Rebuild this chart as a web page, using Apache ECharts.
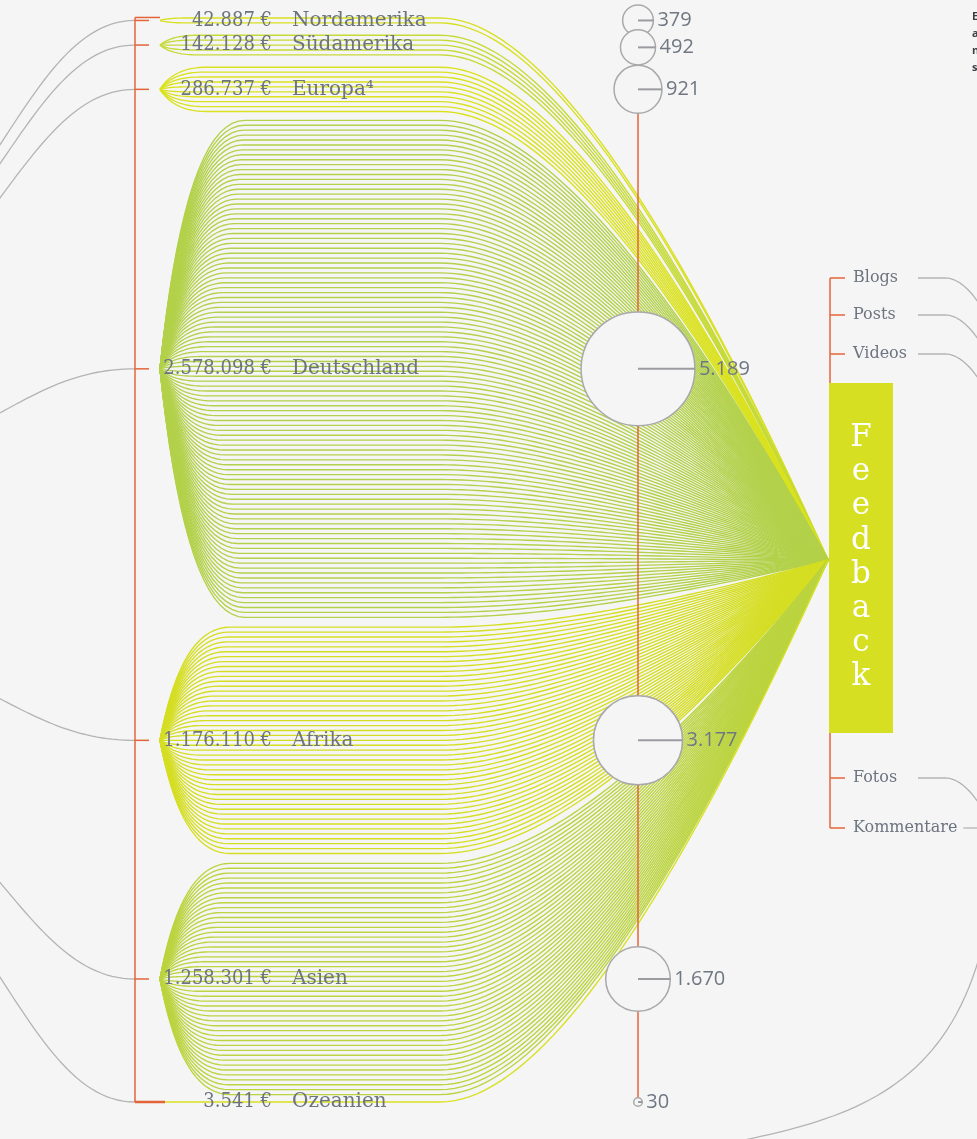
<!DOCTYPE html>
<html lang="de">
<head>
<meta charset="utf-8">
<title>Feedback</title>
<style>
html,body{margin:0;padding:0;background:#f5f5f5;overflow:hidden;}
#chart{width:977px;height:1139px;}
</style>
<script src="https://cdn.jsdelivr.net/npm/echarts@6/dist/echarts.min.js"></script>
</head>
<body>
<div id="chart"></div>
<script>
// ---------------- data ----------------
const regions = ['Nordamerika', 'Südamerika', 'Europa⁴', 'Deutschland', 'Afrika', 'Asien', 'Ozeanien'];
const amounts = [42887, 142128, 286737, 2578098, 1176110, 1258301, 3541];
const feedbackCounts = [379, 492, 921, 5189, 3177, 1670, 30];
const strandCounts = [2, 5, 10, 102, 47, 48, 1];   // strands per region
const feedbackTypes = ['Blogs', 'Posts', 'Videos', 'Fotos', 'Kommentare'];
const hubLabel = 'Feedback';

// ---------------- style / layout ----------------
const BG = '#f5f5f5', ORANGE = '#e4643a', GREY = '#b4b4b4', TEXT = '#6c7480';
const regionColors = ['#d8e021', '#c6da36', '#dae21f', '#b3d14a', '#d5de22', '#bbd43f', '#d8e021'];
const SERIF = '"DejaVu Serif", serif';
const SERIF_C = '"DejaVu Serif Condensed", "DejaVu Serif", serif';
const SANS = '"Open Sans", sans-serif';
const L = {
  bracketX: 135, tickX: 149, nodeX: 160, numX: 272, nameX: 292,
  fanMax: 85, fanRef: 250, flatEndX: 440, bendCtrlX: 584, hubX: 828,
  trunkX: 638, circleK: 0.79,
  fbOffsets: [-282, -245, -206, 218, 268], boxW: 64, boxTopOff: -177, boxH: 350
};
const GAPS = [0, 2.5, 2.5, 1.8, 2, 2, 1.5];   // spacing (in strand slots) before each bundle

const starts = [];
{ let s = 0; strandCounts.forEach((n, i) => { s += GAPS[i]; starts.push(s); s += n - 1; }); }
const lastSlot = starts[starts.length - 1] + strandCounts[strandCounts.length - 1] - 1;
const centers = starts.map((st, i) => st + (strandCounts[i] - 1) / 2);
const hubSlot = lastSlot / 2;

function fmt(n) { return String(n).replace(/\B(?=(\d{3})+(?!\d))/g, '.'); }

const strandData = [];
regions.forEach((r, i) => {
  for (let j = 0; j < strandCounts[i]; j++) {
    strandData.push([i, starts[i] + j, centers[i]]);
  }
});

function cubicPts(p0, p1, p2, p3, n) {
  const out = [];
  for (let k = 1; k <= n; k++) {
    const t = k / n, u = 1 - t;
    out.push([u*u*u*p0[0] + 3*u*u*t*p1[0] + 3*u*t*t*p2[0] + t*t*t*p3[0],
              u*u*u*p0[1] + 3*u*u*t*p1[1] + 3*u*t*t*p2[1] + t*t*t*p3[1]]);
  }
  return out;
}
function quadPts(p0, p1, p2, n) {
  const out = [];
  for (let k = 1; k <= n; k++) {
    const t = k / n, u = 1 - t;
    out.push([u*u*p0[0] + 2*u*t*p1[0] + t*t*p2[0], u*u*p0[1] + 2*u*t*p1[1] + t*t*p2[1]]);
  }
  return out;
}
function txt(text, x, y, size, family, fill, align, extra) {
  return {
    type: 'text', silent: true,
    style: Object.assign({
      text: text, x: x, y: y, fontSize: size, fontFamily: family, fill: fill,
      align: align, textAlign: align, verticalAlign: 'middle', textVerticalAlign: 'middle'
    }, extra || {})
  };
}
function line(x1, y1, x2, y2, stroke, w) {
  return { type: 'line', silent: true, shape: { x1, y1, x2, y2 }, style: { stroke: stroke, lineWidth: w } };
}
function circleR(i) { return L.circleK * Math.sqrt(feedbackCounts[i]); }
function circleY(api, i) {
  let y = 0, prevR = 0;
  for (let k = 0; k <= i; k++) {
    const yk = api.coord([L.trunkX, centers[k]])[1];
    const r = circleR(k);
    y = k === 0 ? yk : Math.max(yk, y + prevR + r - 6);
    prevR = r;
  }
  return y;
}
const measureCtx = document.createElement('canvas').getContext('2d');
function textWidth(t, size, family) { measureCtx.font = size + 'px ' + family; return measureCtx.measureText(t).width; }

// ---------------- series ----------------
const connectorsSeries = {
  type: 'custom', coordinateSystem: 'cartesian2d', silent: true,
  data: regions.map((r, i) => [i, centers[i]]),
  renderItem(params, api) {
    const p = api.coord([L.bracketX, api.value(1)]);
    const hub = api.coord([L.hubX, hubSlot]);
    const dy = 0.23 * (hub[1] - p[1]);
    const pts = [p].concat(cubicPts(p, [p[0] - 60, p[1]], [p[0] - 98, p[1] + 0.55 * dy], [p[0] - 147, p[1] + 1.15 * dy], 30));
    return { type: 'polyline', silent: true, shape: { points: pts }, style: { stroke: GREY, lineWidth: 1.3, fill: 'none' } };
  }
};

const strandSeries = {
  type: 'custom', coordinateSystem: 'cartesian2d', silent: true,
  data: strandData,
  renderItem(params, api) {
    const i = api.value(0);
    const node = api.coord([L.nodeX, api.value(2)]);
    const yi = api.coord([L.nodeX, api.value(1)])[1];
    const x0 = node[0], yc = node[1];
    const dy = Math.abs(yi - yc);
    const w = Math.max(12, L.fanMax * Math.pow(dy / L.fanRef, 0.25));
    const flatX = api.coord([L.flatEndX, 0])[0];
    const ctrlX = api.coord([L.bendCtrlX, 0])[0];
    const hub = api.coord([L.hubX, hubSlot]);
    let pts = [[x0, yc]];
    pts = pts.concat(quadPts([x0, yc], [x0 + w * 0.3, yi], [x0 + w, yi], 18));
    pts.push([flatX, yi]);
    pts = pts.concat(quadPts([flatX, yi], [ctrlX, yi], hub, 40));
    return { type: 'polyline', silent: true, shape: { points: pts }, style: { stroke: regionColors[i], lineWidth: 1.35, fill: 'none' } };
  }
};

const spineSeries = {
  type: 'custom', coordinateSystem: 'cartesian2d', silent: true,
  data: [[centers[0], centers[centers.length - 1]]],
  renderItem(params, api) {
    const top = api.coord([L.bracketX, api.value(0)]);
    const bot = api.coord([L.bracketX, api.value(1)]);
    const tx = api.coord([L.nodeX, 0])[0];
    return { type: 'group', children: [
      line(top[0], top[1] - 3, bot[0], bot[1], ORANGE, 1.5),
      line(top[0], top[1] - 3, tx, top[1] - 3, ORANGE, 1.5),
      line(bot[0], bot[1], tx + 5, bot[1], ORANGE, 2.5)
    ] };
  }
};

const labelSeries = {
  type: 'custom', coordinateSystem: 'cartesian2d', silent: true,
  data: regions.map((r, i) => [i, centers[i]]),
  renderItem(params, api) {
    const i = api.value(0);
    const p = api.coord([L.bracketX, api.value(1)]);
    const tx = api.coord([L.tickX, 0])[0];
    const nx = api.coord([L.numX, 0])[0];
    const mx = api.coord([L.nameX, 0])[0];
    return { type: 'group', children: [
      line(p[0], p[1], tx, p[1], ORANGE, 1.5),
      txt(fmt(amounts[i]) + ' €', nx, p[1], 20, SERIF_C, TEXT, 'right'),
      txt(regions[i], mx, p[1], 20, SERIF, TEXT, 'left')
    ] };
  }
};

const trunkSeries = {
  type: 'custom', coordinateSystem: 'cartesian2d', silent: true,
  data: [[2, 6]],
  renderItem(params, api) {
    const x = api.coord([L.trunkX, 0])[0];
    const y1 = circleY(api, api.value(0)), y2 = circleY(api, api.value(1));
    return line(x, y1, x, y2, ORANGE, 1.5);
  }
};

const circleSeries = {
  type: 'custom', coordinateSystem: 'cartesian2d', silent: true,
  data: regions.map((r, i) => [i, centers[i], feedbackCounts[i]]),
  renderItem(params, api) {
    const i = api.value(0);
    const x = api.coord([L.trunkX, 0])[0];
    const y = circleY(api, i);
    const r = L.circleK * Math.sqrt(api.value(2));
    return { type: 'group', children: [
      { type: 'circle', silent: true, shape: { cx: x, cy: y, r: r }, style: { fill: BG, stroke: '#a9a9ab', lineWidth: 1.5 } },
      line(x, y, x + r, y, '#9b9ca0', 2),
      txt(fmt(api.value(2)), x + r + 4, y, 20, SANS, '#6f7782', 'left')
    ] };
  }
};

const feedbackSeries = {
  type: 'custom', coordinateSystem: 'cartesian2d', silent: true,
  data: [[hubSlot]],
  renderItem(params, api) {
    const hub = api.coord([L.hubX, api.value(0)]);
    const bx = hub[0] + 2;
    const ys = L.fbOffsets.map(o => hub[1] + o);
    const ch = [];
    ch.push(line(bx, ys[0], bx, ys[ys.length - 1], ORANGE, 1.5));
    feedbackTypes.forEach((t, k) => {
      const y = ys[k];
      ch.push(line(bx, y, bx + 15, y, ORANGE, 1.5));
      ch.push(txt(t, bx + 23, y, 16, SERIF, TEXT, 'left'));
      const endText = bx + 23 + textWidth(t, 16, SERIF);
      const sx = Math.max(bx + 88, endText + 6);
      if (sx > 950) {
        ch.push(line(sx, y, 990, y, GREY, 1.3));
      } else {
        const pts = [[sx, y], [945, y]].concat(quadPts([945, y], [968, y], [992, y + 48], 20));
        ch.push({ type: 'polyline', silent: true, shape: { points: pts }, style: { stroke: GREY, lineWidth: 1.3, fill: 'none' } });
      }
    });
    const top = hub[1] + L.boxTopOff;
    ch.push({ type: 'rect', silent: true, shape: { x: hub[0] + 1, y: top, width: L.boxW, height: L.boxH }, style: { fill: '#d6df22' } });
    hubLabel.split('').forEach((c, k) => {
      ch.push(txt(c, hub[0] + 1 + L.boxW / 2, top + 55 + 34.2 * k, 31, SERIF, '#ffffff', 'center'));
    });
    return { type: 'group', children: ch };
  }
};

const chart = echarts.init(document.getElementById('chart'), null, { renderer: 'canvas' });
chart.setOption({
  backgroundColor: BG,
  animation: false,
  grid: { left: 0, right: 0, top: 18, bottom: 37, containLabel: false },
  xAxis: { type: 'value', min: 0, max: 977, show: false },
  yAxis: { type: 'value', min: 0, max: lastSlot, inverse: true, show: false },
  series: [connectorsSeries, strandSeries, spineSeries, labelSeries, trunkSeries, circleSeries, feedbackSeries],
  graphic: [
    { type: 'polyline', silent: true, shape: { points: cubicPts([735, 1142], [850, 1118], [950, 1090], [985, 935], 40) },
      style: { stroke: GREY, lineWidth: 1.3, fill: 'none' } },
    { type: 'text', silent: true, left: 972, top: 8, style: { text: 'E\na\nn\ns', fontSize: 11, lineHeight: 17, fill: '#3a3d42', fontFamily: '"Open Sans", sans-serif', fontWeight: 'bold' } }
  ]
});
</script>
</body>
</html>
